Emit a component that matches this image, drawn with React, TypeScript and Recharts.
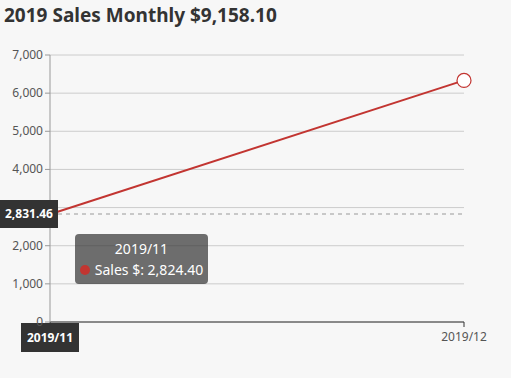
import { LineChart, Line, XAxis, YAxis, CartesianGrid, Tooltip, ReferenceLine } from 'recharts';

const title = '2019 Sales Monthly $9,158.10';
const months = ['2019/11', '2019/12'];
const sales = [2824.4, 6333.7];
const yTicks = [0, 1000, 2000, 3000, 4000, 5000, 6000, 7000];
const pointerValue = 2831.46;
const activeIndex = 0;

const data = months.map((m, i) => ({ month: m, sales: sales[i] }));

const fmt = (v: number, d = 0) =>
  v.toLocaleString('en-US', { minimumFractionDigits: d, maximumFractionDigits: d });

const RED = '#c23531';
const FONT = '"Noto Sans", "Open Sans", sans-serif';
const CHART_H = 378;
const MARGIN = { top: 55, right: 47, bottom: 26, left: 0 };
const X_AXIS_H = 30;
const PLOT_H = CHART_H - MARGIN.top - MARGIN.bottom - X_AXIS_H;
// pointer label box is 28px tall, tick labels inside it are covered
const hiddenRange = (14 * 7000) / PLOT_H;

const XTick = (props: any) => {
  const { x, y, payload, index } = props;
  if (index === activeIndex) {
    return (
      <g>
        <rect x={x - 29} y={y - 6} width={58} height={29} fill="#333" />
        <text x={x} y={y + 13} textAnchor="middle" fill="#fff" fontSize={12} fontWeight="bold" fontFamily={FONT}>
          {payload.value}
        </text>
      </g>
    );
  }
  return (
    <text x={x} y={y + 12} textAnchor="middle" fill="#555" fontSize={12} fontFamily={FONT}>
      {payload.value}
    </text>
  );
};

const YTick = (props: any) => {
  const { x, y, payload } = props;
  if (Math.abs(payload.value - pointerValue) < hiddenRange) return <g />;
  return (
    <text x={x} y={y + 4} textAnchor="end" fill="#555" fontSize={12} fontFamily={FONT}>
      {fmt(payload.value)}
    </text>
  );
};

const PointerLabel = (props: any) => {
  const { viewBox } = props;
  const y = viewBox.y;
  return (
    <g>
      <rect x={0} y={y - 14} width={58} height={28} fill="#333" />
      <text x={29} y={y + 4} textAnchor="middle" fill="#fff" fontSize={12} fontWeight="bold" fontFamily={FONT}>
        {fmt(pointerValue, 2)}
      </text>
    </g>
  );
};

// hide the symbol under the pointer label
const Dot = (props: any) => {
  const { cx, cy, index } = props;
  if (index === activeIndex) return <g key={index} />;
  return <circle key={index} cx={cx} cy={cy} r={7} fill="#fff" stroke={RED} strokeWidth={1.2} />;
};

const TipBox = ({ payload, label }: any) => {
  if (!payload || !payload.length) return null;
  return (
    <div
      style={{
        background: 'rgba(50,50,50,0.7)',
        borderRadius: 4,
        color: '#fff',
        fontFamily: FONT,
        fontSize: 14,
        lineHeight: '21px',
        padding: '4px 0',
        width: 133,
        boxSizing: 'border-box',
        textAlign: 'center',
        whiteSpace: 'nowrap',
      }}
    >
      <div>{label}</div>
      <div>
        <span
          style={{
            display: 'inline-block',
            width: 10,
            height: 10,
            borderRadius: 5,
            background: RED,
            marginRight: 5,
          }}
        />
        Sales $: {fmt(payload[0].value, 2)}
      </div>
    </div>
  );
};

export default function App() {
  return (
    <div style={{ position: 'absolute', left: 0, top: 0, width: 511, height: CHART_H, background: '#f7f7f7' }}>
      <div
        style={{
          position: 'absolute',
          left: 4,
          top: 2,
          fontFamily: FONT,
          fontWeight: 'bold',
          fontSize: 19,
          color: '#333',
          zIndex: 2,
        }}
      >
        {title}
      </div>
      <LineChart width={511} height={CHART_H} data={data} margin={MARGIN}>
        <CartesianGrid vertical={false} stroke="#ccc" />
        <XAxis
          dataKey="month"
          axisLine={{ stroke: '#333' }}
          tickLine={{ stroke: '#333' }}
          tickSize={5}
          height={X_AXIS_H}
          tick={XTick}
          interval={0}
        />
        <YAxis
          domain={[0, 7000]}
          ticks={yTicks}
          width={50}
          axisLine={{ stroke: '#999' }}
          tickLine={{ stroke: '#999' }}
          tickSize={5}
          tickMargin={2}
          tick={YTick}
        />
        <Tooltip
          active
          defaultIndex={activeIndex}
          position={{ x: 75, y: 234 }}
          cursor={false}
          isAnimationActive={false}
          content={TipBox}
          wrapperStyle={{ outline: 'none' }}
        />
        <Line
          dataKey="sales"
          stroke={RED}
          strokeWidth={2}
          dot={Dot}
          activeDot={false}
          isAnimationActive={false}
        />
        <ReferenceLine
          y={pointerValue}
          stroke="#999"
          strokeDasharray="4 4"
          ifOverflow="visible"
          label={PointerLabel}
          zIndex={1000}
        />
      </LineChart>
    </div>
  );
}
